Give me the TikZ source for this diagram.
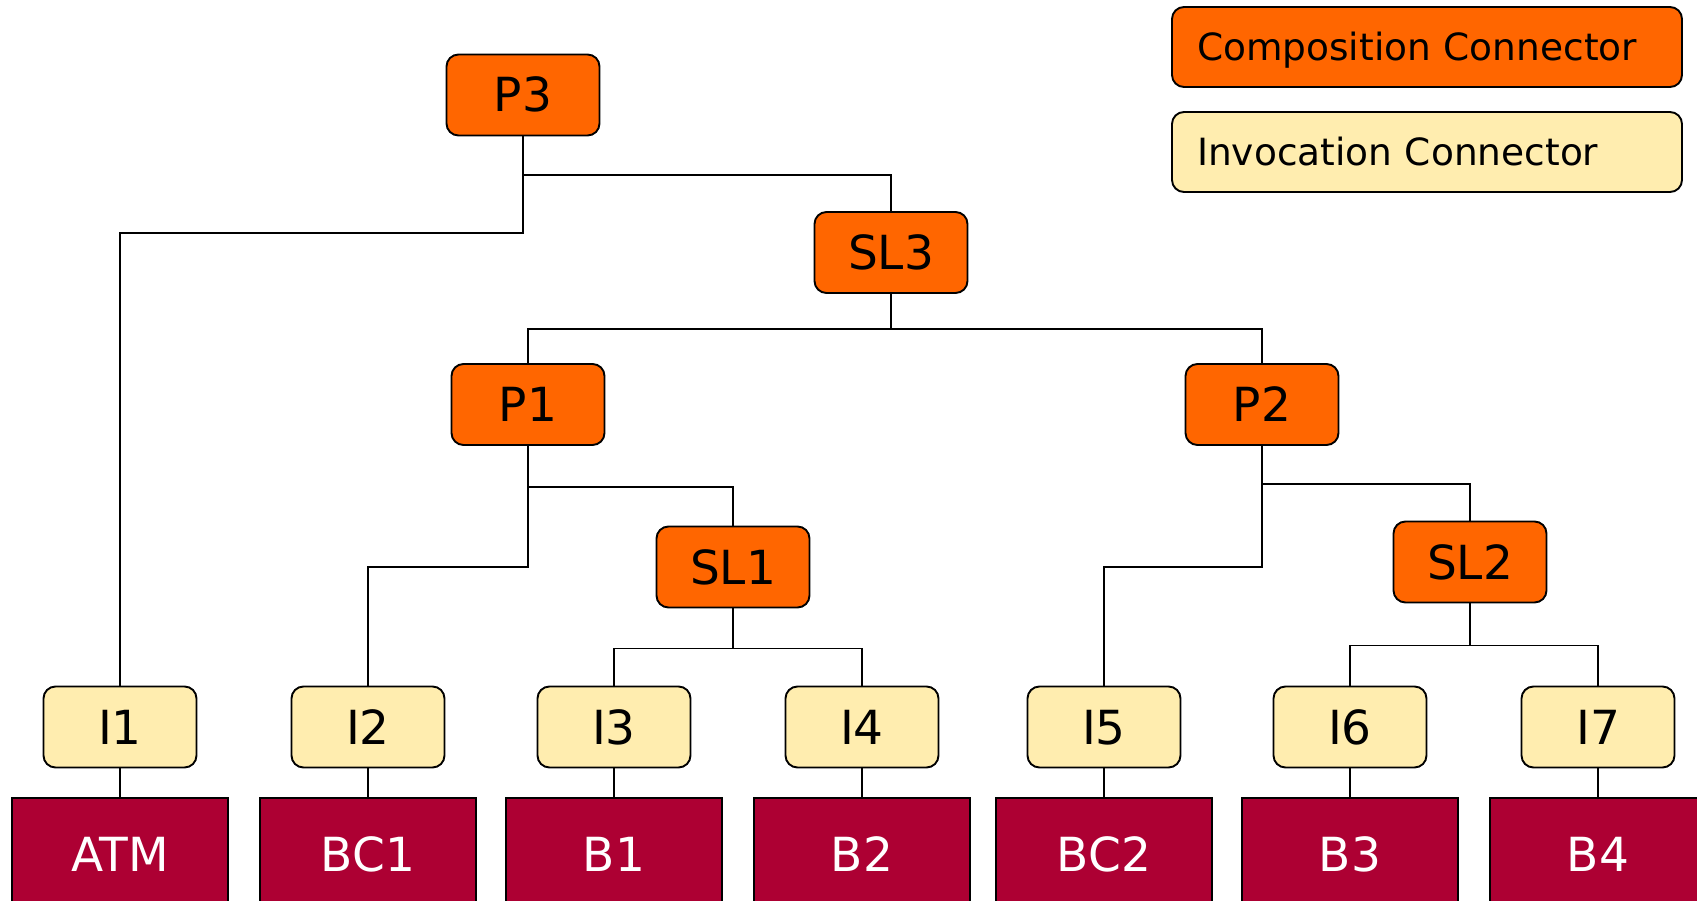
\documentclass[tikz,border=0pt]{standalone}
\usepackage{fontspec}
\setmainfont{DejaVu Sans}
\definecolor{compOrange}{HTML}{FF6600}
\definecolor{invYellow}{HTML}{FFEDAF}
\definecolor{baseRed}{HTML}{AD0033}
\begin{document}
\begin{tikzpicture}[x=1pt,y=-1pt,
  conn/.style={draw=black,line width=1.9pt},
  boxbase/.style={draw=black,line width=1.9pt,inner sep=0pt,
    minimum width=153pt,minimum height=81pt,rounded corners=12pt,
    font=\fontsize{47}{56}\selectfont,text height=34pt,text depth=0pt},
  comp/.style={boxbase,fill=compOrange},
  inv/.style={boxbase,fill=invYellow},
  service/.style={draw=black,line width=1.9pt,fill=baseRed,text=white,
    anchor=north,minimum width=216pt,minimum height=113pt,inner sep=0pt,
    font=\fontsize{47}{56}\selectfont,text height=34pt,text depth=0pt},
  legendbox/.style={draw=black,line width=1.9pt,rounded corners=12pt,
    text width=460pt,align=left,inner xsep=25pt,inner ysep=0pt,
    minimum height=80pt,font=\fontsize{37.5}{45}\selectfont,
    text height=27.5pt,text depth=0pt}]
\useasboundingbox (0,0) rectangle (1697,901);
\fill[white] (0,0) rectangle (1697,901);

% legend
\node[legendbox,fill=compOrange] (legComp) at (1427,47) {Composition Connector};
\node[legendbox,fill=invYellow] (legInv) at (1427,152) {Invocation Connector};

% composition connectors
\node[comp] (P3)  at (523,95)    {P3};
\node[comp] (SL3) at (891,252.5) {SL3};
\node[comp] (P1)  at (528,404.5) {P1};
\node[comp] (P2)  at (1262,404.5){P2};
\node[comp] (SL1) at (733,567)   {SL1};
\node[comp] (SL2) at (1470,562)  {SL2};

% invocation connectors
\node[inv] (I1) at (120,727)  {I1};
\node[inv] (I2) at (368,727)  {I2};
\node[inv] (I3) at (614,727)  {I3};
\node[inv] (I4) at (862,727)  {I4};
\node[inv] (I5) at (1104,727) {I5};
\node[inv] (I6) at (1350,727) {I6};
\node[inv] (I7) at (1598,727) {I7};

% components
\node[service] (ATM) at (120,797)  {ATM};
\node[service] (BC1) at (368,797)  {BC1};
\node[service] (B1)  at (614,797)  {B1};
\node[service] (B2)  at (862,797)  {B2};
\node[service] (BC2) at (1104,797) {BC2};
\node[service] (B3)  at (1350,797) {B3};
\node[service] (B4)  at (1598,797) {B4};

% tree links
\draw[conn] (P3.south) -- ++(0,39) -| (SL3.north);
\draw[conn] (P3.south) -- ++(0,97) -| (I1.north);
\draw[conn] (SL3.south) -- ++(0,35) -| (P1.north);
\draw[conn] (SL3.south) -- ++(0,35) -| (P2.north);
\draw[conn] (P1.south) -- ++(0,41) -| (SL1.north);
\draw[conn] (P1.south) -- ++(0,121) -| (I2.north);
\draw[conn] (SL1.south) -- ++(0,40) -| (I3.north);
\draw[conn] (SL1.south) -- ++(0,40) -| (I4.north);
\draw[conn] (P2.south) -- ++(0,38) -| (SL2.north);
\draw[conn] (P2.south) -- ++(0,121) -| (I5.north);
\draw[conn] (SL2.south) -- ++(0,42) -| (I6.north);
\draw[conn] (SL2.south) -- ++(0,42) -| (I7.north);

% invocation to component
\foreach \i/\b in {I1/ATM,I2/BC1,I3/B1,I4/B2,I5/BC2,I6/B3,I7/B4}
  \draw[conn] (\i.south) -- (\b.north);
\end{tikzpicture}
\end{document}
